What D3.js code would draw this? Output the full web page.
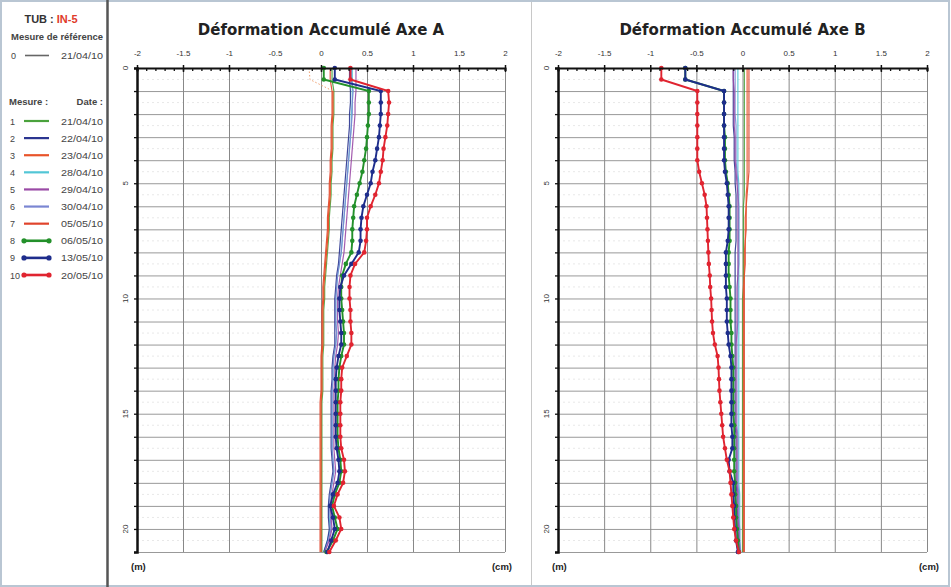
<!DOCTYPE html>
<html><head><meta charset="utf-8">
<script src="https://cdn.jsdelivr.net/npm/d3@7/dist/d3.min.js"></script>
<style>
body{margin:0;background:#fff}
svg{display:block}
text{font-family:"Liberation Sans",Arial,sans-serif}
text.title{font-family:"DejaVu Sans",sans-serif}
</style>
</head><body>
<svg id="c" width="951" height="587"></svg>
<script>
// ---------- DATA ----------
const depths = [0,0.5,1,1.5,2,2.5,3,3.5,4,4.5,5,5.5,6,6.5,7,7.5,8,8.5,9,9.5,10,10.5,11,11.5,12,12.5,13,13.5,14,14.5,15,15.5,16,16.5,17,17.5,18,18.5,19,19.5,20,20.5,21];
const mesures = ["1","2","3","4","5","6","7","8","9","10"];
const dates = ["21/04/10","22/04/10","23/04/10","28/04/10","29/04/10","30/04/10","05/05/10","06/05/10","13/05/10","20/05/10"];
const xTicks = [-2,-1.5,-1,-0.5,0,0.5,1,1.5,2];
const xTickLabels = ["-2","-1.5","-1","-0.5","0","0.5","1","1.5","2"];
const yTicks = [0,5,10,15,20];
const refDate = "21/04/10";
const chartTitles = ["Déformation Accumulé Axe A","Déformation Accumulé Axe B"];

// Axe A
const A1 = [0.12,0.12,0.14,0.14,0.14,0.13,0.13,0.13,0.12,0.12,0.11,0.11,0.10,0.09,0.09,0.08,0.07,0.06,0.05,0.04,0.04,0.03,0.03,0.03,0.03,0.02,0.02,0.02,0.02,0.01,0.01,0.01,0.01,0.01,0.01,0.01,0.01,0.01,0.01,0.01,0.01,0.01,0.01];
const A2 = [0.31,0.31,0.32,0.32,0.31,0.31,0.30,0.29,0.28,0.27,0.26,0.25,0.24,0.23,0.22,0.21,0.20,0.19,0.17,0.16,0.15,0.15,0.15,0.15,0.15,0.13,0.12,0.12,0.11,0.11,0.11,0.11,0.11,0.11,0.12,0.13,0.11,0.09,0.08,0.08,0.09,0.07,0.03];
const A3 = [-0.13,-0.12,0.13,0.13,0.13,0.12,0.12,0.12,0.11,0.11,0.10,0.10,0.09,0.08,0.08,0.07,0.06,0.05,0.04,0.03,0.03,0.02,0.02,0.02,0.02,0.01,0.01,0.01,0.01,0.00,0.00,0.00,0.00,0.00,0.00,0.00,0.00,0.00,0.00,0.00,0.00,0.00,0.00];
const A4 = [0.34,0.34,0.34,0.34,0.33,0.33,0.32,0.31,0.30,0.29,0.28,0.27,0.26,0.25,0.24,0.23,0.22,0.20,0.18,0.17,0.16,0.16,0.16,0.17,0.16,0.14,0.13,0.13,0.12,0.12,0.12,0.12,0.12,0.12,0.13,0.14,0.12,0.10,0.08,0.09,0.10,0.07,0.03];
const A5 = [0.38,0.38,0.38,0.37,0.37,0.36,0.35,0.34,0.33,0.32,0.31,0.30,0.29,0.28,0.27,0.26,0.25,0.23,0.21,0.19,0.18,0.18,0.18,0.19,0.18,0.16,0.15,0.15,0.14,0.14,0.14,0.14,0.14,0.14,0.15,0.16,0.14,0.12,0.10,0.11,0.12,0.09,0.04];
const A6 = [0.33,0.33,0.35,0.34,0.34,0.33,0.32,0.31,0.30,0.29,0.28,0.27,0.26,0.25,0.24,0.23,0.22,0.20,0.18,0.17,0.16,0.16,0.16,0.17,0.16,0.14,0.13,0.13,0.12,0.12,0.12,0.12,0.12,0.12,0.13,0.14,0.12,0.10,0.09,0.10,0.11,0.08,0.04];
const A7 = [0.10,0.10,0.12,0.12,0.12,0.11,0.11,0.11,0.10,0.10,0.09,0.09,0.08,0.07,0.07,0.06,0.05,0.04,0.03,0.02,0.02,0.01,0.01,0.01,0.01,0.00,0.00,0.00,0.00,-0.01,-0.01,-0.01,-0.01,-0.01,-0.01,-0.01,-0.01,-0.01,-0.01,-0.01,-0.01,-0.01,-0.01];
const A8 = [0.03,0.03,0.52,0.52,0.52,0.51,0.50,0.49,0.47,0.45,0.42,0.39,0.36,0.35,0.34,0.34,0.33,0.27,0.23,0.22,0.22,0.23,0.24,0.25,0.25,0.22,0.20,0.19,0.19,0.18,0.18,0.18,0.18,0.19,0.21,0.22,0.20,0.15,0.12,0.15,0.18,0.13,0.06];
const A9 = [0.15,0.15,0.65,0.65,0.65,0.64,0.63,0.61,0.59,0.56,0.54,0.50,0.46,0.44,0.43,0.43,0.41,0.33,0.25,0.21,0.20,0.20,0.21,0.22,0.22,0.19,0.17,0.16,0.16,0.16,0.16,0.16,0.16,0.17,0.19,0.20,0.18,0.13,0.10,0.13,0.15,0.11,0.07];
const A10 = [0.32,0.32,0.73,0.74,0.73,0.72,0.70,0.68,0.67,0.65,0.63,0.59,0.54,0.50,0.50,0.49,0.47,0.37,0.32,0.31,0.31,0.32,0.32,0.33,0.33,0.28,0.23,0.22,0.22,0.21,0.21,0.21,0.21,0.22,0.25,0.26,0.24,0.18,0.14,0.20,0.22,0.16,0.09];

// Axe B
const B1 = [0.02,0.02,0.02,0.02,0.02,0.02,0.02,0.02,0.02,0.02,0.02,0.02,0.01,0.01,0.01,0.01,0.01,0.01,0.01,0.01,0.00,0.00,0.00,0.00,0.00,0.00,0.00,0.00,0.00,0.00,0.00,0.00,0.00,0.00,0.00,0.00,0.00,0.00,0.00,0.00,0.00,0.00,0.00];
const B2 = [-0.10,-0.10,-0.10,-0.10,-0.10,-0.10,-0.09,-0.09,-0.09,-0.08,-0.08,-0.07,-0.07,-0.07,-0.07,-0.07,-0.08,-0.08,-0.08,-0.08,-0.08,-0.08,-0.08,-0.08,-0.08,-0.08,-0.08,-0.08,-0.08,-0.08,-0.08,-0.08,-0.07,-0.07,-0.07,-0.07,-0.07,-0.06,-0.06,-0.05,-0.05,-0.04,-0.03];
const B3 = [0.05,0.05,0.05,0.05,0.05,0.05,0.05,0.05,0.05,0.05,0.05,0.04,0.04,0.03,0.03,0.03,0.02,0.02,0.02,0.01,0.01,0.01,0.01,0.01,0.01,0.01,0.01,0.01,0.01,0.01,0.01,0.01,0.01,0.01,0.01,0.01,0.01,0.01,0.01,0.01,0.01,0.01,0.01];
const B4 = [-0.05,-0.05,-0.05,-0.05,-0.05,-0.05,-0.05,-0.05,-0.05,-0.05,-0.04,-0.04,-0.04,-0.04,-0.04,-0.04,-0.04,-0.04,-0.04,-0.04,-0.04,-0.04,-0.04,-0.04,-0.04,-0.04,-0.04,-0.04,-0.04,-0.04,-0.04,-0.04,-0.04,-0.04,-0.04,-0.04,-0.04,-0.03,-0.03,-0.03,-0.03,-0.03,-0.02];
const B5 = [-0.10,-0.10,-0.09,-0.09,-0.09,-0.09,-0.08,-0.08,-0.08,-0.07,-0.06,-0.05,-0.05,-0.05,-0.05,-0.05,-0.05,-0.05,-0.05,-0.06,-0.06,-0.06,-0.06,-0.06,-0.07,-0.07,-0.07,-0.07,-0.07,-0.07,-0.07,-0.07,-0.06,-0.06,-0.06,-0.06,-0.06,-0.05,-0.05,-0.05,-0.04,-0.04,-0.03];
const B6 = [-0.08,-0.08,-0.08,-0.08,-0.08,-0.07,-0.07,-0.07,-0.07,-0.06,-0.05,-0.05,-0.04,-0.04,-0.04,-0.04,-0.04,-0.04,-0.05,-0.05,-0.05,-0.05,-0.05,-0.06,-0.06,-0.06,-0.06,-0.06,-0.06,-0.06,-0.06,-0.06,-0.05,-0.05,-0.05,-0.05,-0.05,-0.04,-0.04,-0.04,-0.03,-0.03,-0.02];
const B7 = [0.07,0.07,0.07,0.07,0.07,0.07,0.07,0.07,0.07,0.07,0.06,0.05,0.04,0.04,0.04,0.03,0.03,0.03,0.02,0.02,0.02,0.02,0.02,0.02,0.02,0.02,0.02,0.02,0.02,0.02,0.02,0.02,0.02,0.02,0.02,0.02,0.02,0.02,0.02,0.02,0.02,0.02,0.02];
const B8 = [-0.62,-0.62,-0.20,-0.20,-0.20,-0.20,-0.19,-0.19,-0.19,-0.18,-0.16,-0.15,-0.14,-0.14,-0.14,-0.14,-0.15,-0.15,-0.15,-0.14,-0.13,-0.13,-0.13,-0.12,-0.12,-0.11,-0.10,-0.10,-0.10,-0.10,-0.10,-0.09,-0.09,-0.09,-0.09,-0.09,-0.08,-0.08,-0.07,-0.07,-0.06,-0.05,-0.04];
const B9 = [-0.62,-0.62,-0.20,-0.20,-0.20,-0.20,-0.20,-0.20,-0.20,-0.19,-0.17,-0.16,-0.15,-0.15,-0.15,-0.16,-0.18,-0.18,-0.18,-0.18,-0.17,-0.17,-0.17,-0.16,-0.15,-0.13,-0.12,-0.12,-0.12,-0.12,-0.12,-0.12,-0.11,-0.11,-0.15,-0.14,-0.10,-0.10,-0.09,-0.09,-0.08,-0.07,-0.05];
const B10 = [-0.88,-0.88,-0.49,-0.49,-0.49,-0.49,-0.49,-0.49,-0.49,-0.47,-0.44,-0.41,-0.39,-0.385,-0.38,-0.375,-0.37,-0.365,-0.355,-0.35,-0.34,-0.335,-0.33,-0.32,-0.30,-0.27,-0.26,-0.255,-0.25,-0.24,-0.23,-0.22,-0.21,-0.19,-0.17,-0.14,-0.13,-0.12,-0.11,-0.10,-0.09,-0.07,-0.04];

// ---------- STYLES ----------
const colors = ["#4aa23c","#2b3590","#e8542a","#52c6d6","#9a4aa6","#7a86d2","#e0442c","#23902a","#1e2d8c","#e02430"];
const marked = [false,false,false,false,false,false,false,true,true,true];

const seriesA = [A1,A2,A3,A4,A5,A6,A7,A8,A9,A10];
const seriesB = [B1,B2,B3,B4,B5,B6,B7,B8,B9,B10];

const svg = d3.select("#c");

// outer frame
svg.append("rect").attr("x",1).attr("y",1).attr("width",948).attr("height",585)
  .attr("fill","#fff").attr("stroke","#b9c6d3").attr("stroke-width",2);
svg.append("line").attr("x1",107.5).attr("x2",107.5).attr("y1",0).attr("y2",587)
  .attr("stroke","#555").attr("stroke-width",2.5);
svg.append("line").attr("x1",531.5).attr("x2",531.5).attr("y1",2).attr("y2",585)
  .attr("stroke","#c8c8c8").attr("stroke-width",1);

// ---------- LEGEND ----------
const txtCol = "#444";
const lg = svg.append("g");
const tub = lg.append("text").attr("x",51).attr("y",23).attr("text-anchor","middle")
  .attr("font-size",11).attr("font-weight","bold");
tub.append("tspan").attr("fill","#333").text("TUB : ");
tub.append("tspan").attr("fill","#e03a2a").text("IN-5");
lg.append("text").attr("x",57).attr("y",40).attr("text-anchor","middle")
  .attr("font-size",8.5).attr("font-weight","bold").attr("fill",txtCol)
  .attr("textLength",92).attr("lengthAdjust","spacingAndGlyphs").text("Mesure de référence");
lg.append("text").attr("x",11).attr("y",59).attr("font-size",9).attr("fill",txtCol).text("0");
lg.append("line").attr("x1",25).attr("x2",49).attr("y1",55.5).attr("y2",55.5).attr("stroke","#666").attr("stroke-width",1.6);
lg.append("text").attr("x",103).attr("y",59).attr("text-anchor","end").attr("font-size",9).attr("fill",txtCol)
  .attr("textLength",42).attr("lengthAdjust","spacingAndGlyphs").text(refDate);
lg.append("text").attr("x",9).attr("y",105).attr("font-size",9.5).attr("font-weight","bold").attr("fill",txtCol).text("Mesure :");
lg.append("text").attr("x",103).attr("y",105).attr("text-anchor","end").attr("font-size",9.5).attr("font-weight","bold").attr("fill",txtCol).text("Date :");

const rowY = d3.scalePoint().domain(mesures).range([121,275]);
const rows = lg.selectAll("g.row").data(mesures).join("g").attr("class","row")
  .attr("transform",d=>`translate(0,${rowY(d)})`);
rows.append("text").attr("x",10).attr("y",3.5).attr("font-size",9).attr("fill",txtCol).text(d=>d);
rows.append("line").attr("x1",24).attr("x2",49).attr("y1",0).attr("y2",0)
  .attr("stroke",(d,i)=>colors[i]).attr("stroke-width",(d,i)=>marked[i]?2.6:2.2);
rows.filter((d,i)=>marked[i]).selectAll("circle").data((d)=>{const i=mesures.indexOf(d);return [[24,i],[49,i]];})
  .join("circle").attr("cx",d=>d[0]).attr("cy",0).attr("r",2.6).attr("fill",d=>colors[d[1]]);
rows.append("text").attr("x",103).attr("y",3.5).attr("text-anchor","end").attr("font-size",9).attr("fill",txtCol)
  .attr("textLength",42).attr("lengthAdjust","spacingAndGlyphs").text((d,i)=>dates[i]);

// ---------- CHARTS ----------
function drawChart(x0, x1, title, series, dashTop, cmOffset){
  const g = svg.append("g");
  const x = d3.scaleLinear().domain([-2,2]).range([x0,x1]);
  const y = d3.scaleLinear().domain([0,21]).range([68,552]);
  const cx = (x0+x1)/2;
  g.append("text").attr("class","title").attr("x",cx).attr("y",35).attr("text-anchor","middle")
    .attr("font-size",15).attr("font-weight","bold").attr("fill","#222").text(title);

  // minor half-meter lines
  g.append("g").selectAll("line").data(d3.range(0.5,21,1)).join("line")
    .attr("x1",x0).attr("x2",x1).attr("y1",d=>y(d)).attr("y2",d=>y(d))
    .attr("stroke","#e8e8e8").attr("stroke-width",1).attr("stroke-dasharray","2,3");
  // horizontal grid
  g.append("g").call(d3.axisLeft(y).tickValues(d3.range(1,22)).tickSize(-(x1-x0)).tickFormat(""))
    .attr("transform",`translate(${x0},0)`)
    .call(a=>a.select(".domain").remove())
    .call(a=>a.selectAll("line").attr("stroke","#999").attr("stroke-width",1));
  // vertical grid
  g.append("g").call(d3.axisTop(x).tickValues(xTicks.slice(1)).tickSize(-(y(21)-y(0))).tickFormat(""))
    .attr("transform",`translate(0,${y(0)})`)
    .call(a=>a.select(".domain").remove())
    .call(a=>a.selectAll("line").attr("stroke","#888").attr("stroke-width",1));

  // series
  const line = d3.line().x(d=>x(d[0])).y(d=>y(d[1]));
  const order = [0,6,2,3,1,5,4,7,8,9];
  order.forEach(i=>{
    const pts = series[i].map((v,k)=>[v,depths[k]]);
    if(dashTop && i===2){
      g.append("path").attr("d",line(pts.slice(0,3))).attr("fill","none")
        .attr("stroke","#f0a070").attr("stroke-width",1).attr("stroke-dasharray","1.5,2");
      g.append("path").attr("d",line(pts.slice(2))).attr("fill","none")
        .attr("stroke",colors[i]).attr("stroke-width",1.3);
    } else {
      g.append("path").attr("d",line(pts)).attr("fill","none")
        .attr("stroke",colors[i]).attr("stroke-width",marked[i]?1.9:1.2).attr("stroke-opacity",marked[i]?1:0.9);
    }
    if(marked[i]){
      g.append("g").selectAll("circle").data(pts).join("circle")
        .attr("cx",d=>x(d[0])).attr("cy",d=>y(d[1])).attr("r",2.3).attr("fill",colors[i]);
    }
  });

  // top axis
  g.append("g").attr("transform",`translate(0,${y(0)})`)
    .call(d3.axisBottom(x).tickValues(d3.range(-20,21).map(d=>d/10)).tickSize(3).tickFormat(""))
    .call(a=>a.select(".domain").attr("stroke","#111").attr("stroke-width",2))
    .call(a=>a.selectAll("line").attr("stroke","#111").attr("stroke-width",1.3));
  g.append("g").attr("transform",`translate(0,${y(0)})`)
    .call(d3.axisTop(x).tickValues(xTicks).tickSize(3).tickPadding(9).tickFormat((d,i)=>xTickLabels[i]))
    .call(a=>a.select(".domain").remove())
    .call(a=>a.selectAll("line").attr("stroke","#111").attr("stroke-width",1.5).attr("y2",-3).attr("y1",4))
    .call(a=>a.selectAll("text").attr("font-size",8).attr("fill","#333"));

  // left axis
  g.append("g").attr("transform",`translate(${x0},0)`)
    .call(d3.axisLeft(y).tickValues(d3.range(0,22)).tickSize(3).tickFormat(""))
    .call(a=>a.select(".domain").attr("stroke","#111").attr("stroke-width",2.5))
    .call(a=>a.selectAll("line").attr("stroke","#111").attr("stroke-width",1.3));
  g.append("g").selectAll("text").data(yTicks).join("text")
    .attr("transform",d=>`translate(${x0-9},${y(d)}) rotate(-90)`)
    .attr("text-anchor","middle").attr("font-size",8).attr("fill","#333").text(d=>d);

  g.append("text").attr("x",x0-6).attr("y",570).attr("font-size",9.5).attr("font-weight","bold").attr("fill","#222").text("(m)");
  g.append("text").attr("x",x1+cmOffset).attr("y",570).attr("text-anchor","end").attr("font-size",9.5).attr("font-weight","bold").attr("fill","#222").text("(cm)");
}
drawChart(137,505,chartTitles[0],seriesA,true,7);
drawChart(558,927,chartTitles[1],seriesB,false,12);
</script>
</body></html>
